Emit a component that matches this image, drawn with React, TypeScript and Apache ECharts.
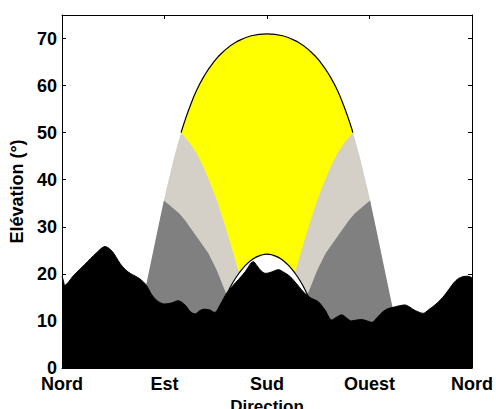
import React, { useEffect, useRef } from "react";
import * as echarts from "echarts";

// Axis ticks (azimuth in degrees) and their labels
const xTickValues = [0, 90, 180, 270, 360];
const xTickLabels = ["Nord", "Est", "Sud", "Ouest", "Nord"];

// Summer solstice sun path [azimuth, elevation]
const summerPath: number[][] = [
  [66.1, 8.7], [72.2, 15.6], [78.3, 22.7], [84.6, 30.0], [91.1, 37.4], [98.4, 44.7],
  [102.5, 48.4], [104.6, 50.0], [107.0, 51.9], [112.1, 55.4], [117.8, 58.8], [124.5, 61.9],
  [132.5, 64.8], [142.0, 67.3], [153.3, 69.3], [166.2, 70.6], [180.0, 71.0],
  [193.8, 70.6], [206.7, 69.3], [218.0, 67.3], [227.5, 64.8], [235.5, 61.9], [242.2, 58.8],
  [247.9, 55.4], [253.0, 51.9], [255.4, 50.0], [257.5, 48.4], [261.6, 44.7], [268.9, 37.4],
  [275.4, 30.0], [281.7, 22.7], [287.8, 15.6], [293.9, 8.7],
];

// Winter solstice sun path [azimuth, elevation]
const winterPath: number[][] = [
  [134.5, 9.6], [138.4, 12.2], [142.5, 14.5], [146.7, 16.7], [151.1, 18.6], [155.6, 20.2],
  [160.3, 21.6], [165.1, 22.7], [170.0, 23.5], [175.1, 24.0], [180.0, 24.2], [184.9, 24.0],
  [190.0, 23.5], [194.9, 22.7], [199.7, 21.6], [204.4, 20.2], [208.9, 18.6], [213.3, 16.7],
  [217.5, 14.5], [221.6, 12.2], [225.5, 9.6],
];

// Boundary between yellow and light grey zones
const yellowLeftBoundary: number[][] = [
  [104.6, 50.0], [111.0, 48.2], [118.3, 45.6], [125.0, 42.3], [131.4, 38.5], [136.8, 35.0],
  [141.6, 31.4], [146.3, 27.8], [150.4, 24.4], [155.6, 20.2],
];
const yellowRightBoundary: number[][] = [
  [255.4, 50.0], [249.0, 48.2], [241.7, 45.6], [235.0, 42.3], [228.6, 38.5], [223.2, 35.0],
  [218.4, 31.4], [213.7, 27.8], [209.6, 24.4], [204.4, 20.2],
];

// Boundary between light grey and dark grey zones
const darkLeftBoundary: number[][] = [
  [89.5, 35.6], [96.3, 34.2], [103.0, 32.8], [108.0, 31.4], [118.3, 27.9], [128.5, 24.4],
  [135.8, 20.8], [141.6, 17.3], [144.6, 15.5],
];
const darkRightBoundary: number[][] = [
  [270.5, 35.6], [263.7, 34.2], [257.0, 32.8], [252.0, 31.4], [241.7, 27.9], [231.5, 24.4],
  [224.2, 20.8], [218.4, 17.3], [215.4, 15.5],
];

// Horizon (terrain) profile [azimuth, elevation]
const terrain: number[][] = [
  [0, 19.5], [1.2, 18.6], [2.5, 17.6], [10, 19.6], [20, 22.0], [30, 24.4], [37.8, 25.8],
  [44, 24.8], [51, 22.2], [56, 20.8], [60, 20.1], [68, 19.0], [74, 17.6], [79, 15.5],
  [84, 14.2], [90, 13.6], [96, 13.8], [102, 14.3], [108, 13.4], [113, 11.9], [117, 11.5],
  [121, 12.2], [125, 12.5], [130, 12.3], [134, 11.8], [139, 13.5], [144.6, 15.9],
  [150, 17.5], [155, 18.8], [161, 20.5], [166, 22.3], [168, 22.6], [171, 21.8], [175, 20.6],
  [179, 20.1], [184, 20.4], [190, 20.9], [195, 20.3], [200, 19.5], [207, 17.6], [213, 15.9],
  [219, 14.8], [225, 14.1], [231, 12.3], [236.8, 10.2], [241, 10.8], [245.6, 11.3],
  [250, 10.6], [254, 10.0], [259, 10.2], [263, 10.3], [268, 10.0], [272, 9.7], [277, 10.8],
  [282, 12.0], [286, 12.6], [291, 12.9], [296, 13.2], [301, 13.4], [305, 13.0], [308, 12.5],
  [313, 11.9], [317, 11.6], [322, 12.4], [327.5, 13.4], [332, 14.4], [336, 15.5],
  [340, 16.8], [344, 18.1], [348, 19.0], [352, 19.4], [356, 19.5], [360, 19.2],
];

const FONT = "'Liberation Sans', Arial, Helvetica, sans-serif";

function polygonSeries(name: string, points: number[][], color: string) {
  return {
    type: "custom",
    name,
    data: points,
    clip: true,
    silent: true,
    renderItem: (params: any, api: any) => {
      if (params.dataIndex !== 0) return null;
      return {
        type: "polygon",
        shape: { points: points.map((p) => api.coord(p)) },
        style: { fill: color, stroke: null },
      };
    },
  };
}

export default function App() {
  const ref = useRef<HTMLDivElement>(null);
  useEffect(() => {
    if (!ref.current) return;
    const chart = echarts.init(ref.current, undefined, { renderer: "svg" });

    const first = summerPath[0];
    const last = summerPath[summerPath.length - 1];
    const lightGrey = [[first[0], 0], ...summerPath, [last[0], 0]];

    const dl0 = darkLeftBoundary[0];
    const dlEnd = darkLeftBoundary[darkLeftBoundary.length - 1];
    const darkLeft = [
      [first[0], 0],
      ...summerPath.filter((p) => p[0] < dl0[0]),
      ...darkLeftBoundary,
      [dlEnd[0], 0],
    ];
    const dr0 = darkRightBoundary[0];
    const drEnd = darkRightBoundary[darkRightBoundary.length - 1];
    const darkRight = [
      [drEnd[0], 0],
      ...[...darkRightBoundary].reverse(),
      ...summerPath.filter((p) => p[0] > dr0[0]),
      [last[0], 0],
    ];
    const yl0 = yellowLeftBoundary[0][0];
    const yr0 = yellowRightBoundary[0][0];
    const yellow = [
      ...[...yellowLeftBoundary].reverse(),
      ...summerPath.filter((p) => p[0] > yl0 && p[0] < yr0),
      ...yellowRightBoundary,
    ];
    const wFirst = winterPath[0];
    const wLast = winterPath[winterPath.length - 1];
    const whiteZone = [[wFirst[0], 0], ...winterPath, [wLast[0], 0]];
    const summerOutline = summerPath.filter((p) => p[0] >= yl0 && p[0] <= yr0);

    const axisLine = { show: true, onZero: false, lineStyle: { color: "#000", width: 1 } };
    const tickIn = { show: true, inside: true, length: 4, lineStyle: { color: "#000", width: 1 } };
    const labelFont = { color: "#000", fontFamily: FONT, fontWeight: "bold" as const, fontSize: 18 };

    chart.setOption({
      animation: false,
      backgroundColor: "#fff",
      grid: {
        left: 62,
        right: 24,
        top: 15,
        bottom: 41,
        containLabel: false,
        outerBoundsMode: "none",
      },
      xAxis: [
        {
          type: "value",
          position: "bottom",
          min: 0,
          max: 360,
          interval: 90,
          axisLine,
          axisTick: tickIn,
          splitLine: { show: false },
          axisLabel: {
            ...labelFont,
            margin: 7,
            formatter: (v: number) => {
              const i = xTickValues.indexOf(v);
              return i >= 0 ? xTickLabels[i] : "";
            },
          },
          name: "Direction",
          nameLocation: "middle",
          nameGap: 25,
          nameTextStyle: { ...labelFont, fontSize: 17 },
        },
        {
          type: "value",
          position: "top",
          min: 0,
          max: 360,
          interval: 90,
          axisLine,
          axisTick: tickIn,
          splitLine: { show: false },
          axisLabel: { show: false },
        },
      ],
      yAxis: [
        {
          type: "value",
          position: "left",
          min: 0,
          max: 75,
          interval: 10,
          axisLine,
          axisTick: tickIn,
          splitLine: { show: false },
          axisLabel: { ...labelFont, margin: 5, showMaxLabel: false },
          name: "Elévation (°)",
          nameLocation: "middle",
          nameGap: 30,
          nameTextStyle: { ...labelFont, fontSize: 18 },
        },
        {
          type: "value",
          position: "right",
          min: 0,
          max: 75,
          interval: 10,
          axisLine,
          axisTick: tickIn,
          splitLine: { show: false },
          axisLabel: { show: false },
        },
      ],
      series: [
        polygonSeries("light", lightGrey, "#d4d0c8"),
        polygonSeries("darkLeft", darkLeft, "#808080"),
        polygonSeries("darkRight", darkRight, "#808080"),
        polygonSeries("yellow", yellow, "#ffff00"),
        polygonSeries("white", whiteZone, "#ffffff"),
        {
          type: "line",
          name: "winter",
          data: winterPath,
          smooth: true,
          showSymbol: false,
          silent: true,
          lineStyle: { color: "#000", width: 1.2 },
        },
        {
          type: "line",
          name: "summer",
          data: summerOutline,
          smooth: true,
          showSymbol: false,
          silent: true,
          lineStyle: { color: "#000", width: 1.2 },
        },
        {
          type: "line",
          name: "terrain",
          data: terrain,
          smooth: 0.3,
          showSymbol: false,
          silent: true,
          lineStyle: { color: "#000", width: 1 },
          areaStyle: { color: "#000", opacity: 1 },
        },
      ],
    });
    return () => chart.dispose();
  }, []);

  return (
    <div
      ref={ref}
      style={{ position: "fixed", left: 0, top: 0, width: 496, height: 409, background: "#fff" }}
    />
  );
}
